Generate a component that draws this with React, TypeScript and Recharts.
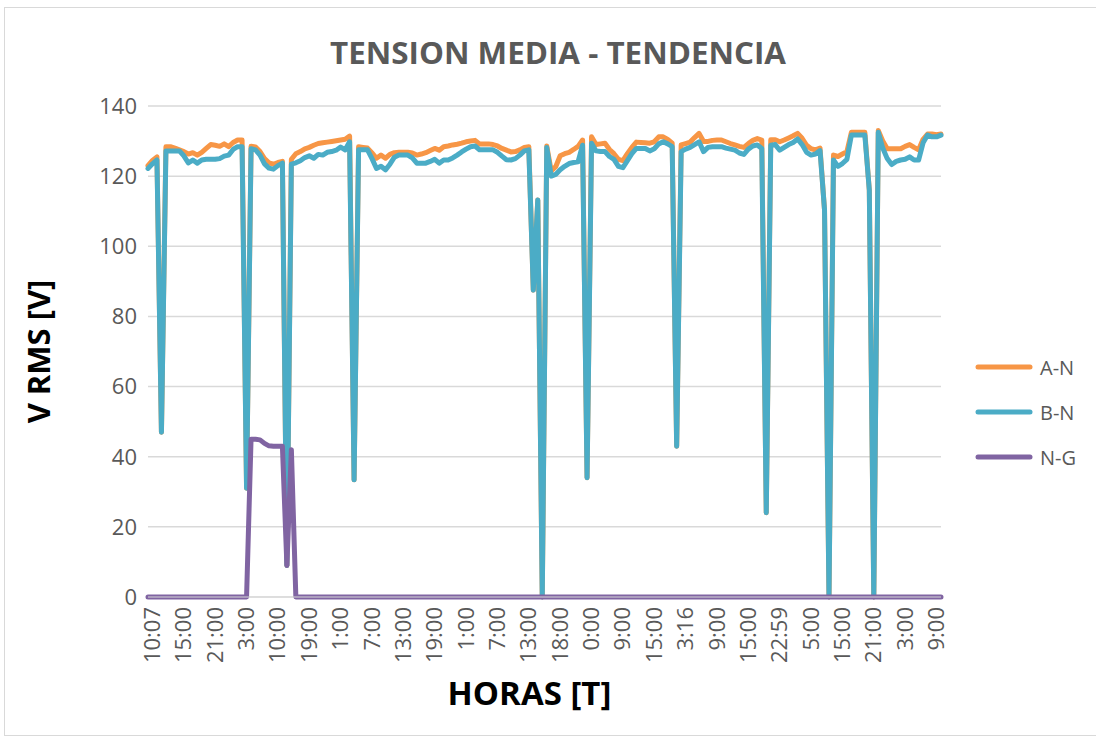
import { LineChart, Line, XAxis, YAxis, CartesianGrid, Legend } from "recharts";

// Etiquetas del eje X (una cada 7 muestras)
const xLabels = [
  "10:07", "15:00", "21:00", "3:00", "10:00", "19:00", "1:00", "7:00", "13:00",
  "19:00", "1:00", "7:00", "13:00", "18:00", "0:00", "9:00", "15:00", "3:16",
  "9:00", "15:00", "22:59", "5:00", "15:00", "21:00", "3:00", "9:00",
];
const LABEL_STEP = 7;
const yTicks = [0, 20, 40, 60, 80, 100, 120, 140];

// A-N [V]
const anValues = [
  123.0, 124.5, 125.5, 47, 128.4, 128.4, 128.0, 127.5, 127.0, 126.3,
  126.7, 126.0, 126.8, 127.9, 129.0, 128.8, 128.5, 129.2, 128.4, 129.6,
  130.3, 130.3, 31, 128.5, 128.3, 127.0, 125.0, 123.8, 123.4, 123.9,
  124.2, 9, 124.8, 126.4, 127.0, 127.8, 128.2, 128.8, 129.3, 129.5,
  129.7, 129.9, 130.1, 130.3, 130.5, 131.4, 33.4, 128.4, 128.2, 128.0,
  126.6, 125.1, 126.0, 125.1, 126.2, 126.7, 126.8, 126.8, 126.8, 126.6,
  126.0, 126.3, 126.7, 127.3, 127.9, 127.4, 128.4, 128.6, 128.9, 129.1,
  129.4, 129.8, 130.0, 130.2, 129.2, 129.2, 129.2, 129.0, 128.6, 127.9,
  127.4, 126.9, 127.0, 127.5, 128.2, 128.4, 87.5, 113.2, 0, 128.6,
  121.5, 122.7, 125.8, 126.4, 126.8, 127.6, 128.5, 130.3, 34, 131.2,
  129.0, 129.2, 129.4, 127.6, 126.4, 124.8, 124.4, 126.4, 128.2, 129.7,
  129.6, 129.5, 129.4, 129.8, 131.2, 131.2, 130.5, 129.4, 43, 128.9,
  129.3, 129.7, 131.0, 132.2, 129.9, 129.9, 130.2, 130.3, 130.3, 129.8,
  129.3, 128.9, 128.5, 128.2, 129.3, 130.2, 130.7, 130.3, 24, 130.4,
  130.4, 129.8, 130.3, 130.9, 131.5, 132.2, 130.8, 128.8, 127.8, 127.5,
  128.0, 110.4, 0, 126.0, 125.6, 126.3, 127.0, 132.5, 132.5, 132.5,
  132.5, 116.0, 0, 133.0, 130.0, 127.8, 127.8, 127.8, 127.8, 128.5,
  129.0, 128.2, 127.5, 130.5, 132.0, 132.0, 131.8, 132.0,
];

// B-N [V]
const bnValues = [
  122.2, 123.5, 124.6, 47, 127.2, 127.2, 127.2, 127.2, 125.8, 123.8,
  124.6, 123.7, 124.6, 124.8, 124.8, 124.8, 125.0, 125.7, 126.0, 127.6,
  128.4, 128.4, 31, 127.8, 127.5, 126.0, 123.5, 122.3, 122.0, 123.0,
  123.7, 9, 123.4, 123.8, 124.4, 125.3, 125.8, 125.1, 126.2, 126.0,
  126.8, 127.0, 127.4, 128.3, 127.5, 129.8, 33.4, 127.5, 127.5, 127.5,
  125.0, 122.2, 122.8, 121.8, 123.4, 125.4, 126.0, 126.0, 126.0, 125.2,
  123.7, 123.7, 123.7, 124.2, 124.8, 123.7, 124.6, 124.6, 125.2, 126.0,
  126.9, 127.7, 128.4, 128.6, 127.5, 127.5, 127.5, 127.5, 126.8, 125.7,
  124.7, 124.6, 125.0, 126.0, 127.2, 127.5, 87.5, 113.2, 0, 128.2,
  120.0, 120.5, 121.8, 122.8, 123.6, 123.9, 124.1, 128.8, 34, 129.4,
  127.2, 127.0, 127.0, 125.6, 124.8, 122.8, 122.4, 124.4, 126.4, 127.9,
  127.9, 127.9, 127.2, 127.8, 129.2, 129.8, 129.2, 128.4, 43, 127.0,
  127.7, 128.2, 129.0, 129.8, 127.0, 128.2, 128.4, 128.4, 128.4, 128.0,
  127.7, 127.4, 126.6, 126.2, 127.7, 128.6, 128.9, 127.9, 24, 128.8,
  129.0, 127.4, 128.2, 129.0, 129.6, 130.6, 129.0, 126.8, 126.0, 126.3,
  127.3, 110.4, 0, 124.6, 122.8, 123.6, 124.8, 131.7, 131.7, 131.7,
  131.7, 116.0, 0, 132.5, 128.0, 125.0, 123.3, 124.2, 124.6, 124.8,
  125.5, 124.6, 124.6, 129.5, 131.7, 131.2, 131.2, 131.7,
];

// N-G [V]
const ngValues = [
  0, 0, 0, 0, 0, 0, 0, 0, 0, 0,
  0, 0, 0, 0, 0, 0, 0, 0, 0, 0,
  0, 0, 0, 45, 45, 44.8, 43.8, 43.1, 43, 43,
  43, 9, 42, 0, 0, 0, 0, 0, 0, 0,
  0, 0, 0, 0, 0, 0, 0, 0, 0, 0,
  0, 0, 0, 0, 0, 0, 0, 0, 0, 0,
  0, 0, 0, 0, 0, 0, 0, 0, 0, 0,
  0, 0, 0, 0, 0, 0, 0, 0, 0, 0,
  0, 0, 0, 0, 0, 0, 0, 0, 0, 0,
  0, 0, 0, 0, 0, 0, 0, 0, 0, 0,
  0, 0, 0, 0, 0, 0, 0, 0, 0, 0,
  0, 0, 0, 0, 0, 0, 0, 0, 0, 0,
  0, 0, 0, 0, 0, 0, 0, 0, 0, 0,
  0, 0, 0, 0, 0, 0, 0, 0, 0, 0,
  0, 0, 0, 0, 0, 0, 0, 0, 0, 0,
  0, 0, 0, 0, 0, 0, 0, 0, 0, 0,
  0, 0, 0, 0, 0, 0, 0, 0, 0, 0,
  0, 0, 0, 0, 0, 0, 0, 0,
];

const FONT = "'Open Sans', sans-serif";
const GREY = "#595959";

const data = anValues.map((v, i) => ({ i, an: v, bn: bnValues[i], ng: ngValues[i] }));
const xTicks = xLabels.map((_, k) => k * LABEL_STEP);

function XTick(props: any) {
  const { x, y, payload } = props;
  const label = xLabels[Math.round(payload.value / LABEL_STEP)];
  const tx = x + 3;
  return (
    <text
      x={tx}
      y={y}
      transform={`rotate(-90 ${tx} ${y})`}
      textAnchor="end"
      dominantBaseline="central"
      fontSize={22}
      fontFamily={FONT}
      fill={GREY}
    >
      {label}
    </text>
  );
}

function renderLegend(props: any) {
  const payload = props.payload ?? [];
  return (
    <svg width={128} height={130} style={{ display: "block" }}>
      {payload.map((p: any, k: number) => (
        <g key={p.value}>
          <line x1={10} x2={62} y1={22 + 45 * k} y2={22 + 45 * k} stroke={p.color} strokeWidth={5} strokeLinecap="round" />
          <text x={72} y={22 + 45 * k} dominantBaseline="central" fontSize={20} fontFamily={FONT} fill={GREY}>
            {p.value}
          </text>
        </g>
      ))}
    </svg>
  );
}

export default function App() {
  return (
    <div style={{ position: "absolute", left: 0, top: 0, width: 1096, height: 740, overflow: "hidden", background: "#fff" }}>
      <svg width={1096} height={740} style={{ position: "absolute", left: 0, top: 0 }}>
        <rect x={4.5} y={7.5} width={1200} height={728} fill="none" stroke="#d9d9d9" />
        <text x={558} y={64} textAnchor="middle" fontSize={31} fontWeight={700} fontFamily={FONT} fill={GREY} textLength={456} lengthAdjust="spacingAndGlyphs">
          TENSION MEDIA - TENDENCIA
        </text>
      </svg>
      <div style={{ position: "absolute", left: 0, top: 0 }}>
        <LineChart width={1096} height={740} data={data} margin={{ top: 106, right: 155, bottom: 0, left: 0 }}>
          <CartesianGrid vertical={false} stroke="#d9d9d9" strokeWidth={1.5} />
          <XAxis
            type="number"
            dataKey="i"
            domain={[0, 177]}
            ticks={xTicks}
            interval={0}
            height={143}
            tickSize={0}
            tickMargin={10}
            axisLine={{ stroke: "#d9d9d9" }}
            tick={<XTick />}
            label={{
              content: (p: any) => {
                const vb = p.viewBox;
                return (
                  <text x={vb.x + vb.width / 2 - 15} y={vb.y + 95} textAnchor="middle" dominantBaseline="central" fontSize={33} fontWeight={700} fontFamily={FONT} fill="#000">
                    HORAS [T]
                  </text>
                );
              },
            }}
          />
          <YAxis
            domain={[0, 140]}
            ticks={yTicks}
            width={148}
            tickSize={0}
            tickMargin={11}
            axisLine={false}
            tick={{ fontSize: 22, fill: GREY, fontFamily: FONT }}
            label={{
              content: (p: any) => {
                const vb = p.viewBox;
                const cx = 38;
                const cy = vb.y + vb.height / 2;
                return (
                  <text x={cx} y={cy} transform={`rotate(-90 ${cx} ${cy})`} textAnchor="middle" dominantBaseline="central" fontSize={31} fontWeight={700} fontFamily={FONT} fill="#000">
                    V RMS [V]
                  </text>
                );
              },
            }}
          />
          <Legend layout="vertical" align="center" verticalAlign="middle" wrapperStyle={{ left: 968, top: 345, width: 128 }} content={renderLegend} />
          <Line name="A-N" dataKey="an" stroke="#F79646" strokeWidth={5} strokeLinejoin="round" strokeLinecap="round" dot={false} isAnimationActive={false} />
          <Line name="B-N" dataKey="bn" stroke="#4BACC6" strokeWidth={5} strokeLinejoin="round" strokeLinecap="round" dot={false} isAnimationActive={false} />
          <Line name="N-G" dataKey="ng" stroke="#8064A2" strokeWidth={5} strokeLinejoin="round" strokeLinecap="round" dot={false} isAnimationActive={false} />
        </LineChart>
      </div>
    </div>
  );
}
